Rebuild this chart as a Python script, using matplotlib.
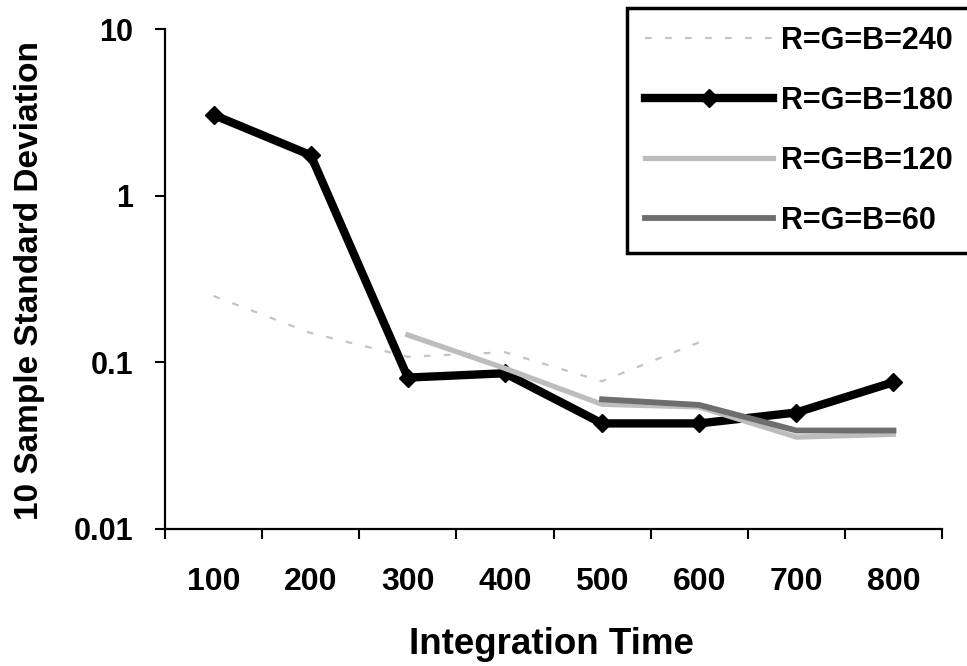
import numpy as np
import matplotlib
matplotlib.use('Agg')
import matplotlib.pyplot as plt
from matplotlib.ticker import FixedLocator, NullLocator, FixedFormatter

plt.rcParams['font.family'] = ['Liberation Sans', 'DejaVu Sans']
plt.rcParams['font.weight'] = 'bold'

# integration times on the category axis
times = ['100', '200', '300', '400', '500', '600', '700', '800']

# standard deviation of 10 samples for each gray level
sd_240 = [0.25, 0.15, 0.108, 0.115, 0.077, 0.132, np.nan, np.nan]
sd_180 = [3.05, 1.75, 0.081, 0.086, 0.043, 0.043, 0.050, 0.076]
sd_120 = [np.nan, np.nan, 0.146, 0.092, 0.056, 0.054, 0.0356, 0.037]
sd_60 = [np.nan, np.nan, np.nan, np.nan, 0.060, 0.0555, 0.039, 0.039]

x = np.arange(len(times))

fig = plt.figure(figsize=(9.67, 6.66), dpi=100)
ax = fig.add_axes([165/967, 1-529/666, (942-165)/967, (529-29)/666])

l240, = ax.plot(x, sd_240, color='#c4c4c4', lw=1.6, linestyle=(0, (3, 6)),
                label='R=G=B=240')
l180, = ax.plot(x, sd_180, color='black', lw=6, marker='D', markersize=9,
                solid_joinstyle='round', label='R=G=B=180')
l120, = ax.plot(x, sd_120, color='#bdbdbd', lw=3.8, label='R=G=B=120')
l60, = ax.plot(x, sd_60, color='#6e6e6e', lw=4.2, label='R=G=B=60')

ax.set_yscale('log')
ax.set_ylim(0.01, 10)
ax.yaxis.set_major_locator(FixedLocator([0.01, 0.1, 1, 10]))
ax.yaxis.set_major_formatter(FixedFormatter(['0.01', '0.1', '1', '10']))
ax.yaxis.set_minor_locator(NullLocator())

ax.set_xlim(-0.5, len(times) - 0.5)
ax.set_xticks(np.arange(-0.5, len(times), 1))
ax.set_xticklabels([])
ax.set_xticks(x, minor=True)
ax.set_xticklabels(times, minor=True)

ax.tick_params(axis='y', which='major', length=7, width=1.5, pad=16,
               labelsize=22)
ax.tick_params(axis='x', which='major', length=7, width=1.5)
ax.tick_params(axis='x', which='minor', length=0, pad=27, labelsize=23)

for side in ['top', 'right']:
    ax.spines[side].set_visible(False)
for side in ['left', 'bottom']:
    ax.spines[side].set_linewidth(1.6)

fig.text(30/967, 1-280/666, '10 Sample Standard Deviation', rotation=90,
         ha='center', va='center', fontsize=24, fontweight='bold')
fig.text(551/967, 1-645/666, 'Integration Time', ha='center', va='center',
         fontsize=26.5, fontweight='bold')

leg = fig.legend(handles=[l240, l180, l120, l60], loc='upper left',
                 bbox_to_anchor=(627/967, 1-252/666, 400/967, 244/666),
                 mode='expand', fontsize=22, handlelength=4.2,
                 handletextpad=0.25, labelspacing=0.98, borderpad=0.58,
                 borderaxespad=0, numpoints=1, fancybox=False,
                 framealpha=1)
leg.get_frame().set_edgecolor('black')
leg.get_frame().set_linewidth(2.5)

fig.savefig('out.png', dpi=100)
